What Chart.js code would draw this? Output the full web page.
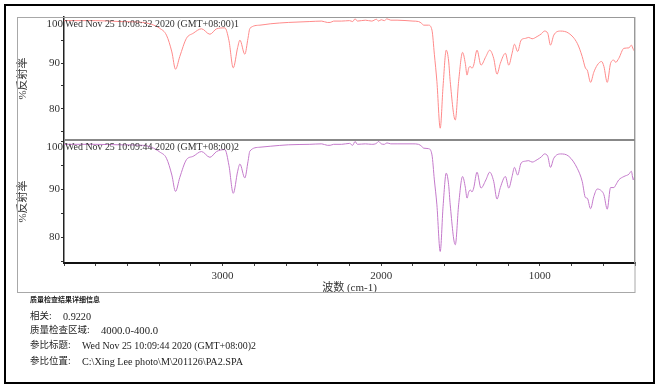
<!DOCTYPE html>
<html>
<head>
<meta charset="utf-8">
<script src="https://cdn.jsdelivr.net/npm/chart.js@4.4.1/dist/chart.umd.min.js"></script>
<style>
  body { margin: 0; background: #fff; }
  #wrap { position: relative; width: 658px; height: 390px; }
  #chart { position: absolute; left: 0; top: 0; }
  #outer { position: absolute; left: 4px; top: 4px; width: 647px; height: 376px; border: 2px solid #000; pointer-events: none; }
  .info { position: absolute; left: 30px; font-family: "Liberation Serif", "Noto Sans CJK SC", serif; font-size: 9.5px; line-height: 12px; color: #222; white-space: pre; }
  .info .lat { position: absolute; top: 0; font-size: 11px; white-space: pre; transform-origin: left center; }
  .info.head { font-size: 7px; font-weight: bold; }
</style>
</head>
<body>
<div id="wrap">
  <canvas id="chart" width="658" height="390"></canvas>
  <div id="outer"></div>
  <div class="info head" style="top:294px">质量检查结果详细信息</div>
  <div class="info" style="top:310px">相关:<span class="lat" data-x="33" data-w="28">0.9220</span></div>
  <div class="info" style="top:324px">质量检查区域:<span class="lat" data-x="71" data-w="57">4000.0-400.0</span></div>
  <div class="info" style="top:339px">参比标题:<span class="lat" data-x="52" data-w="174">Wed Nov 25 10:09:44 2020 (GMT+08:00)2</span></div>
  <div class="info" style="top:355px">参比位置:<span class="lat" data-x="52" data-w="161">C:\Xing Lee photo\M\201126\PA2.SPA</span></div>
</div>
<script>
// Spectrum data (wavenumber, %reflectance)
const wavenumbers = [4000, 3800, 3650, 3504, 3450, 3396, 3354, 3320, 3297, 3270, 3228, 3186, 3133, 3080, 3038, 2986, 2960, 2933, 2905, 2891, 2860, 2840, 2828, 2765, 2700, 2586, 2450, 2375, 2340, 2322, 2300, 2250, 2200, 2180, 2165, 2150, 2100, 2060, 2030, 2017, 2000, 1980, 1964, 1940, 1900, 1800, 1765, 1745, 1733, 1702, 1680, 1665, 1649, 1628, 1610, 1590, 1575, 1565, 1533, 1512, 1487, 1470, 1459, 1448, 1438, 1428, 1417, 1396, 1371, 1340, 1316, 1291, 1270, 1249, 1217, 1196, 1175, 1160, 1140, 1118, 1090, 1070, 1049, 1017, 990, 971, 950, 933, 912, 870, 817, 764, 733, 712, 701, 680, 660, 638, 611, 596, 575, 554, 533, 522, 502, 470, 438, 423, 411, 403, 400];

const spectrum1 = [99.4, 99.4, 99.2, 99.0, 98.6, 97.7, 96.2, 92.5, 88.7, 91.5, 95.5, 96.6, 97.6, 96.4, 97.6, 97.8, 95.0, 89.0, 93.5, 95.1, 92.0, 95.5, 97.7, 98.4, 98.7, 99.0, 99.2, 99.3, 99.0, 99.0, 99.3, 99.3, 99.4, 99.2, 99.8, 99.3, 99.5, 99.3, 99.7, 99.3, 99.6, 99.4, 99.8, 99.5, 99.5, 99.3, 99.2, 98.8, 98.4, 98.4, 97.3, 92.0, 86.0, 75.7, 85.0, 92.9, 90.5, 86.0, 77.5, 86.0, 92.4, 90.0, 87.4, 89.0, 89.3, 88.9, 89.6, 92.9, 89.6, 91.5, 92.9, 91.1, 87.6, 90.0, 92.2, 89.6, 92.2, 94.2, 92.6, 95.1, 95.5, 95.7, 95.4, 95.9, 96.5, 97.1, 96.6, 94.0, 96.2, 97.1, 96.6, 94.4, 91.5, 88.9, 88.5, 85.8, 88.0, 89.6, 90.4, 89.3, 85.8, 90.0, 90.7, 90.2, 91.1, 93.3, 93.4, 94.0, 93.1, 92.7, 97.0];

const spectrum2 = [99.4, 99.4, 99.3, 99.2, 98.8, 97.8, 96.5, 93.0, 89.6, 92.5, 96.2, 96.9, 97.9, 96.7, 97.9, 98.3, 95.0, 89.2, 93.8, 95.3, 92.4, 95.8, 98.0, 98.8, 99.0, 99.3, 99.4, 99.5, 99.2, 99.2, 99.4, 99.4, 99.6, 99.2, 100.0, 99.4, 99.5, 99.4, 99.6, 100.0, 99.5, 99.4, 99.7, 99.5, 99.5, 99.5, 99.4, 99.0, 98.6, 98.5, 97.2, 92.0, 86.8, 77.1, 86.5, 93.4, 91.0, 86.8, 78.5, 86.8, 92.7, 90.5, 88.2, 89.5, 89.9, 89.5, 90.3, 93.6, 90.3, 92.0, 93.6, 91.7, 88.0, 90.4, 92.7, 90.3, 92.7, 94.6, 93.0, 95.5, 95.9, 96.0, 95.7, 96.2, 96.8, 97.4, 96.9, 94.6, 96.5, 97.4, 96.9, 94.4, 91.7, 88.3, 88.2, 86.0, 88.5, 90.1, 89.7, 88.9, 85.9, 90.4, 90.4, 90.9, 92.0, 92.7, 93.2, 93.8, 92.0, 92.6, 92.6];

const spectrumTitles = ['Wed Nov 25 10:08:32 2020 (GMT+08:00)1', 'Wed Nov 25 10:09:44 2020 (GMT+08:00)2'];
const xLabelTicks = [1000, 2000, 3000];
const yLabelTicks = [80, 90];

const serif = '"Liberation Serif", "Noto Sans CJK SC", serif';

function toPoints(vals) {
    return wavenumbers.map((w, i) => ({x: w, y: vals[i]}));
}

function yAxis(min, max, weight) {
    return {
        type: 'linear',
        position: 'left',
        stack: 'spec',
        stackWeight: 1,
        weight: weight,
        min: min,
        max: max,
        afterFit: s => { s.width = 47; },
        ticks: {
            stepSize: 5,
            includeBounds: false,
            autoSkip: false,
            padding: 1,
            color: '#333',
            font: {family: serif, size: 11},
            // 100 is drawn by the plugin so it can sit inside the panel
            callback: v => yLabelTicks.includes(v) ? String(v) : ''
        },
        grid: {drawOnChartArea: false, drawTicks: true, tickLength: 3, color: '#333'},
        border: {color: '#222', width: 1.5},
        title: {display: true, text: '%反射率', color: '#333', padding: 0, font: {family: serif, size: 11}}
    };
}

// frames, divider, titles inside the panels
const panelDecor = {
    id: 'panelDecor',
    afterDraw(chart) {
        const ctx = chart.ctx;
        const a = chart.chartArea;
        const xs = chart.scales.x;
        const panels = [chart.scales.y1, chart.scales.y2].sort((p, q) => p.top - q.top);
        ctx.save();
        // outer grey frame
        ctx.strokeStyle = '#a8a8a8';
        ctx.lineWidth = 1;
        ctx.strokeRect(17.5, a.top + 0.5, a.right - 17.5, xs.bottom - a.top);
        // top and right edge of plot
        ctx.strokeStyle = '#999';
        ctx.beginPath();
        ctx.moveTo(a.left, a.top + 0.5);
        ctx.lineTo(a.right - 0.5, a.top + 0.5);
        ctx.lineTo(a.right - 0.5, a.bottom);
        ctx.stroke();
        // divider between panels
        ctx.strokeStyle = '#888';
        ctx.lineWidth = 2;
        ctx.beginPath();
        ctx.moveTo(a.left, panels[0].bottom);
        ctx.lineTo(a.right, panels[0].bottom);
        ctx.stroke();

        ctx.fillStyle = '#333';
        ctx.font = '11px ' + serif;
        ctx.textBaseline = 'middle';
        panels.forEach((s, i) => {
            ctx.textAlign = 'left';
            ctx.fillText(spectrumTitles[i], a.left + 1, s.top + 7.5, 174);
            ctx.textAlign = 'right';
            const y100 = Math.max(s.getPixelForValue(100), s.top + 7.5);
            ctx.fillText('100', a.left - 1, y100);
        });
        ctx.restore();
    }
};

new Chart(document.getElementById('chart').getContext('2d'), {
    type: 'line',
    data: {
        datasets: [
            {
                data: toPoints(spectrum1),
                yAxisID: 'y1',
                borderColor: '#ff8a8a',
                borderWidth: 1,
                pointRadius: 0,
                cubicInterpolationMode: 'monotone',
                fill: false
            },
            {
                data: toPoints(spectrum2),
                yAxisID: 'y2',
                borderColor: '#c47acb',
                borderWidth: 1,
                pointRadius: 0,
                cubicInterpolationMode: 'monotone',
                fill: false
            }
        ]
    },
    options: {
        responsive: false,
        animation: false,
        layout: {padding: {left: 17, right: 23, top: 17, bottom: 98}},
        plugins: {legend: {display: false}, tooltip: {enabled: false}},
        scales: {
            x: {
                type: 'linear',
                reverse: true,
                min: 400,
                max: 4000,
                afterFit: s => { s.height = 29; },
                ticks: {
                    stepSize: 200,
                    autoSkip: false,
                    maxRotation: 0,
                    padding: 4,
                    color: '#333',
                    font: {family: serif, size: 11},
                    callback: v => xLabelTicks.includes(v) ? String(v) : ''
                },
                grid: {drawOnChartArea: false, drawTicks: true, tickLength: 3, color: '#444'},
                border: {color: '#111', width: 2},
                title: {display: true, text: '波数 (cm-1)', color: '#333', padding: {top: 0, bottom: -3}, font: {family: serif, size: 11}}
            },
            y1: yAxis(73.1, 100.2, 1),
            y2: yAxis(74.7, 100.3, 0)
        }
    },
    plugins: [panelDecor]
});

// squeeze the latin parts of the info lines to the widths seen in the picture
document.querySelectorAll('.info .lat').forEach(el => {
    el.style.left = el.dataset.x + 'px';
    const k = Number(el.dataset.w) / el.getBoundingClientRect().width;
    el.style.transform = 'scaleX(' + k + ')';
});
</script>
</body>
</html>
